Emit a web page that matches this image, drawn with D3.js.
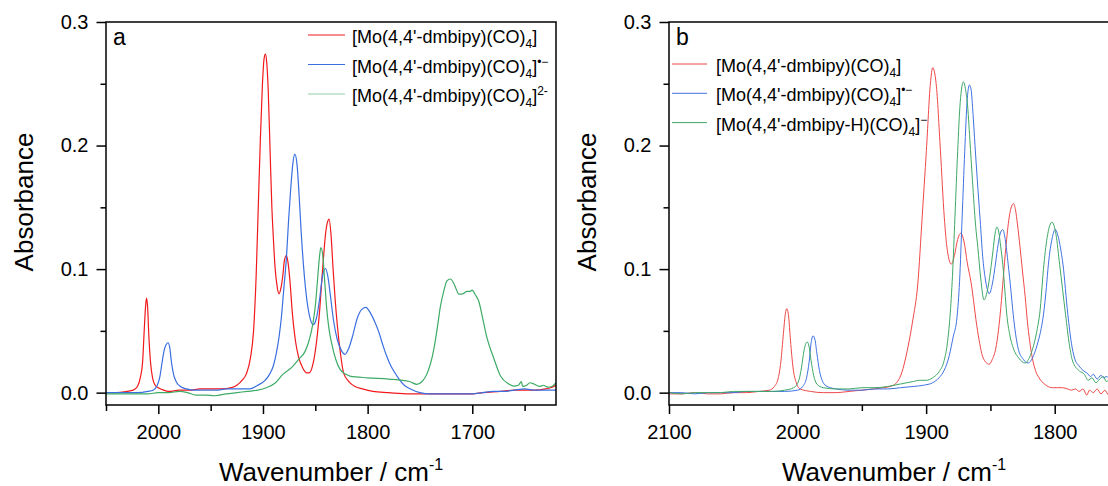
<!DOCTYPE html>
<html><head><meta charset="utf-8">
<script src="https://cdn.jsdelivr.net/npm/d3@7"></script>
<style>
body{margin:0;background:#fff;}
svg{display:block;font-family:"Liberation Sans",Arial,Helvetica,sans-serif;}
</style>
</head><body>
<svg id="chart" width="1108" height="486"></svg>
<script>
// ---------- DATA (wavenumber cm-1, absorbance) ----------
const redA = [[2050,0.000],[2040,0.000],[2030,0.001],[2024,0.002],[2020,0.005],[2017,0.013],[2015,0.025],[2013.5,0.050],[2012,0.072],[2011.2,0.0765],[2010.3,0.070],[2009,0.045],[2007.5,0.025],[2005.5,0.012],[2003,0.006],[2000,0.004],[1995,0.002],[1990,0.001],[1980,0.002],[1970,0.002],[1960,0.003],[1950,0.003],[1940,0.003],[1930,0.004],[1925,0.006],[1920,0.010],[1916,0.015],[1912,0.028],[1909,0.050],[1906.5,0.095],[1904.5,0.150],[1902.5,0.205],[1900.5,0.250],[1899,0.270],[1897.7,0.274],[1896.5,0.268],[1895,0.245],[1893,0.190],[1891.5,0.150],[1890,0.124],[1888.5,0.102],[1886.5,0.086],[1884.7,0.080],[1883,0.084],[1881,0.095],[1879.5,0.107],[1877.6,0.111],[1876,0.105],[1874,0.088],[1872,0.065],[1869,0.042],[1866,0.029],[1862,0.020],[1858,0.016],[1855.9,0.016],[1852,0.024],[1849,0.040],[1846,0.065],[1843,0.100],[1840,0.130],[1838,0.139],[1836.8,0.1405],[1835,0.128],[1833,0.100],[1831,0.075],[1829,0.055],[1826,0.032],[1823,0.016],[1818,0.009],[1812,0.005],[1805,0.003],[1795,0.001],[1780,0.000],[1760,-0.001],[1740,-0.001],[1720,-0.001],[1700,-0.001],[1690,0.000],[1673,0.001],[1660,0.002],[1650,0.002],[1640,0.002],[1630,0.003],[1625,0.004],[1620,0.006]];

const blueA = [[2050,0.000],[2040,0.000],[2030,0.000],[2020,0.000],[2010,0.001],[2005,0.002],[2001,0.006],[1998.5,0.013],[1996.5,0.024],[1994.5,0.034],[1992.5,0.039],[1990.7,0.0404],[1989,0.036],[1987.5,0.025],[1985.5,0.015],[1983,0.009],[1979,0.005],[1973,0.003],[1965,0.002],[1955,0.002],[1945,0.002],[1935,0.003],[1925,0.003],[1913,0.003],[1905,0.006],[1898,0.010],[1893.6,0.015],[1890,0.022],[1887,0.033],[1884.5,0.046],[1882.4,0.061],[1880,0.085],[1877.6,0.109],[1875.5,0.140],[1873.5,0.165],[1871.5,0.185],[1869.6,0.193],[1867.5,0.185],[1865.5,0.160],[1863.5,0.130],[1861,0.100],[1858.5,0.078],[1855.5,0.062],[1852,0.055],[1849,0.060],[1846,0.075],[1843,0.095],[1840.2,0.1005],[1838,0.094],[1835.5,0.078],[1832.5,0.058],[1829,0.043],[1825,0.034],[1821.7,0.031],[1818,0.036],[1814,0.047],[1810,0.060],[1806,0.067],[1801.8,0.069],[1797,0.064],[1793,0.057],[1789.7,0.050],[1786,0.040],[1782,0.030],[1778,0.022],[1775,0.0175],[1770,0.011],[1765,0.006],[1759,0.003],[1750,0.000],[1740,-0.001],[1720,-0.001],[1700,-0.001],[1690,0.000],[1680,0.001],[1670,0.001],[1660,0.002],[1650,0.003],[1640,0.002],[1630,0.002],[1620,0.002]];

const greenA = [[2050,-0.001],[2040,-0.001],[2030,-0.001],[2020,-0.001],[2010,-0.001],[2000,0.000],[1990,0.000],[1980,0.001],[1972,0.000],[1964,-0.002],[1955,-0.002],[1946,-0.0025],[1935,-0.001],[1925,0.000],[1915,0.001],[1905,0.002],[1896.7,0.004],[1888,0.008],[1880.8,0.015],[1873,0.020],[1864.8,0.028],[1860,0.033],[1856,0.042],[1852.4,0.0555],[1850,0.070],[1848,0.090],[1846,0.110],[1844.7,0.1175],[1843,0.112],[1841,0.090],[1839.2,0.069],[1837,0.052],[1834.4,0.040],[1830.5,0.027],[1826.5,0.019],[1821,0.015],[1816.9,0.0134],[1800,0.012],[1780,0.011],[1760,0.009],[1752.9,0.0067],[1748,0.009],[1743.4,0.015],[1737,0.034],[1733.5,0.052],[1730.6,0.069],[1727,0.083],[1724.2,0.0905],[1721,0.092],[1718,0.089],[1715,0.083],[1713,0.0797],[1709,0.080],[1705,0.082],[1702,0.082],[1700.2,0.083],[1697,0.079],[1693.8,0.074],[1690,0.060],[1686,0.0445],[1679.5,0.028],[1673,0.0134],[1665,0.007],[1660.3,0.0053],[1656,0.006],[1653,0.009],[1652,0.005],[1648,0.006],[1645,0.008],[1641,0.007],[1636,0.005],[1632,0.006],[1628,0.0045],[1624,0.005],[1620,0.008]];

const redB = [[2100,-0.001],[2090,-0.001],[2080,0.000],[2070,-0.001],[2060,-0.001],[2050,0.000],[2040,0.000],[2030,0.001],[2022,0.002],[2018,0.005],[2015,0.012],[2013,0.025],[2011,0.048],[2009.5,0.064],[2008.3,0.068],[2007,0.062],[2005.5,0.042],[2003.5,0.020],[2001,0.008],[1998,0.003],[1990,0.001],[1980,0.000],[1970,0.000],[1960,0.001],[1950,0.002],[1940.8,0.003],[1933,0.004],[1928,0.005],[1924,0.007],[1919,0.016],[1914.7,0.034],[1910.5,0.058],[1906.5,0.088],[1903.1,0.142],[1899.8,0.196],[1896.7,0.250],[1894.9,0.263],[1892.2,0.250],[1888.9,0.196],[1885.9,0.142],[1883.5,0.115],[1880.4,0.104],[1878,0.111],[1875.5,0.124],[1873,0.129],[1870.5,0.122],[1868,0.105],[1865.2,0.090],[1860,0.050],[1855.6,0.028],[1851,0.023],[1848.5,0.027],[1845.8,0.036],[1843.8,0.050],[1841.9,0.069],[1840,0.093],[1838,0.1175],[1835.4,0.142],[1833.5,0.151],[1832,0.153],[1830.5,0.148],[1829,0.1365],[1827,0.118],[1825.1,0.0986],[1823,0.078],[1821.3,0.058],[1819.5,0.042],[1817.4,0.028],[1815,0.018],[1812.2,0.012],[1808,0.007],[1801.9,0.004],[1798,0.004],[1794,0.004],[1790,0.003],[1787,0.002],[1784,0.003],[1781,0.001],[1778,0.003],[1775,-0.002],[1773,0.002],[1770,0.000],[1767,0.003],[1764,-0.001],[1761,0.002],[1758,-0.002],[1755,0.001],[1750,0.000]];

const greenB = [[2100,0.000],[2090,-0.001],[2080,0.000],[2070,0.000],[2060,0.000],[2050,0.001],[2040,0.001],[2030,0.001],[2020,0.001],[2010,0.002],[2003,0.004],[1999,0.010],[1997,0.020],[1995,0.034],[1993.5,0.040],[1992.5,0.041],[1991,0.037],[1989.5,0.026],[1987.5,0.014],[1985,0.007],[1980,0.004],[1970,0.003],[1960,0.003],[1950,0.004],[1940,0.004],[1930,0.005],[1920,0.007],[1910,0.009],[1905,0.010],[1900,0.010],[1895,0.012],[1890,0.017],[1886,0.026],[1883.5,0.040],[1881.5,0.061],[1879.5,0.095],[1877.6,0.142],[1875.5,0.195],[1873.5,0.235],[1871,0.2515],[1869,0.243],[1868,0.235],[1866,0.205],[1864,0.172],[1861.5,0.135],[1859.8,0.1175],[1857.5,0.092],[1855,0.075],[1852.5,0.082],[1850,0.098],[1848,0.115],[1846.5,0.128],[1845,0.134],[1843.5,0.130],[1842,0.118],[1840.4,0.104],[1838.8,0.083],[1837.3,0.0635],[1835,0.047],[1832.2,0.036],[1828,0.028],[1823,0.024],[1819,0.030],[1815.5,0.042],[1813.5,0.052],[1811.7,0.0635],[1808.4,0.104],[1805.5,0.128],[1802.2,0.138],[1799,0.128],[1796.2,0.104],[1791.6,0.0635],[1788.5,0.038],[1786.1,0.0256],[1780.8,0.0175],[1777,0.015],[1774,0.010],[1771,0.012],[1768,0.008],[1765,0.011],[1762,0.013],[1760,0.009],[1756,0.011],[1750,0.008]];

const blueB = [[2100,0.000],[2090,0.000],[2080,-0.001],[2070,0.000],[2060,0.000],[2050,0.000],[2040,0.001],[2030,0.001],[2020,0.001],[2010,0.001],[2000,0.002],[1996,0.005],[1993,0.012],[1991,0.025],[1989.5,0.040],[1988,0.046],[1986.5,0.043],[1985,0.032],[1983,0.018],[1980.5,0.009],[1977,0.005],[1970,0.003],[1960,0.002],[1950,0.002],[1940,0.003],[1930,0.003],[1920,0.004],[1910,0.005],[1902,0.006],[1895,0.008],[1890,0.012],[1886,0.018],[1882,0.030],[1879,0.045],[1876,0.061],[1874,0.090],[1872,0.142],[1870,0.195],[1868,0.238],[1866.3,0.249],[1865,0.245],[1863.5,0.225],[1862,0.200],[1860.2,0.172],[1858,0.140],[1856,0.110],[1854,0.092],[1852.5,0.084],[1851,0.080],[1848.5,0.088],[1846,0.105],[1844,0.120],[1842,0.130],[1840.4,0.132],[1838.5,0.124],[1836.2,0.104],[1834,0.082],[1832.3,0.0635],[1828.5,0.036],[1824.5,0.027],[1820.6,0.024],[1816.5,0.030],[1813,0.041],[1810.5,0.052],[1808.7,0.0635],[1806.5,0.085],[1804.9,0.104],[1802,0.125],[1799.6,0.132],[1797,0.125],[1795,0.114],[1793.6,0.104],[1789.8,0.0635],[1787,0.040],[1784.6,0.028],[1781,0.0215],[1778,0.018],[1775,0.016],[1772,0.013],[1770,0.015],[1767,0.011],[1764,0.014],[1762,0.012],[1760,0.013],[1756,0.011],[1750,0.012]];

const yMajorTicks = [0, 0.1, 0.2, 0.3];
const yMinorTicks = [0.05, 0.15, 0.25];
const xMajorA = [2000, 1900, 1800, 1700];
const xMinorA = [2050, 1950, 1850, 1750, 1650];
const xMajorB = [2100, 2000, 1900, 1800];
const xMinorB = [2050, 1950, 1850, 1750];

const legendA = [
  {base: "[Mo(4,4'-dmbipy)(CO)", sub: "4", sup: ""},
  {base: "[Mo(4,4'-dmbipy)(CO)", sub: "4", sup: "\u2022\u2212"},
  {base: "[Mo(4,4'-dmbipy)(CO)", sub: "4", sup: "2-"}
];
const legendB = [
  {base: "[Mo(4,4'-dmbipy)(CO)", sub: "4", sup: ""},
  {base: "[Mo(4,4'-dmbipy)(CO)", sub: "4", sup: "\u2022\u2212"},
  {base: "[Mo(4,4'-dmbipy-H)(CO)", sub: "4", sup: "\u2212"}
];

// ---------- DRAWING ----------
const svg = d3.select("#chart");
const plotTop = 22, plotBottom = 405, plotW = 450;

function drawPanel(cfg) {
  const x = d3.scaleLinear().domain(cfg.xDomain).range([cfg.left, cfg.left + plotW]);
  const y = d3.scaleLinear().domain([-0.01, 0.3]).range([plotBottom, plotTop]);
  const g = svg.append("g");

  const clipId = "clip" + cfg.id;
  svg.append("clipPath").attr("id", clipId).append("rect")
    .attr("x", cfg.left).attr("y", plotTop).attr("width", plotW).attr("height", plotBottom - plotTop);

  const line = d3.line().x(d => x(d[0])).y(d => y(d[1])).curve(d3.curveMonotoneX);
  const pg = g.append("g").attr("clip-path", `url(#${clipId})`);
  cfg.series.forEach(s => {
    pg.append("path").datum(s.data).attr("d", line)
      .attr("fill", "none").attr("stroke", s.color).attr("stroke-width", cfg.lw)
      .attr("stroke-linejoin", "round");
  });

  g.append("rect").attr("x", cfg.left).attr("y", plotTop).attr("width", plotW).attr("height", plotBottom - plotTop)
    .attr("fill", "none").attr("stroke", "#000").attr("stroke-width", 1.5);

  const ya = g.append("g").attr("transform", `translate(${cfg.left},0)`)
    .call(d3.axisLeft(y).tickValues(yMajorTicks).tickFormat(d3.format(".1f")).tickSize(9.5).tickPadding(8));
  ya.select(".domain").remove();
  ya.selectAll("line").attr("stroke-width", 1.5);
  ya.selectAll("text").attr("font-size", 20).attr("font-family", "Liberation Sans, Arial, sans-serif").attr("fill", "#000");
  const yma = g.append("g").attr("transform", `translate(${cfg.left},0)`)
    .call(d3.axisLeft(y).tickValues(yMinorTicks).tickFormat("").tickSize(5.5));
  yma.select(".domain").remove();
  yma.selectAll("line").attr("stroke-width", 1.5);

  const xa = g.append("g").attr("transform", `translate(0,${plotBottom})`)
    .call(d3.axisBottom(x).tickValues(cfg.xMajor).tickFormat(d3.format("d")).tickSize(9).tickPadding(11));
  xa.select(".domain").remove();
  xa.selectAll("line").attr("stroke-width", 1.5);
  xa.selectAll("text").attr("font-size", 20).attr("font-family", "Liberation Sans, Arial, sans-serif").attr("fill", "#000");
  const xma = g.append("g").attr("transform", `translate(0,${plotBottom})`)
    .call(d3.axisBottom(x).tickValues(cfg.xMinor).tickFormat("").tickSize(6));
  xma.select(".domain").remove();
  xma.selectAll("line").attr("stroke-width", 1.5);

  g.append("text").attr("transform", `translate(${cfg.left - 73},202) rotate(-90)`)
    .attr("text-anchor", "middle").attr("font-size", 26).text("Absorbance");
  const xt = g.append("text").attr("x", cfg.left + 225).attr("y", 481)
    .attr("text-anchor", "middle").attr("font-size", 26);
  xt.append("tspan").text("Wavenumber / cm");
  xt.append("tspan").attr("font-size", 16).attr("dy", -11).text("-1");

  g.append("text").attr("x", cfg.left + 7).attr("y", 45).attr("font-size", 23).text(cfg.letter);

  cfg.legend.forEach((L, i) => {
    const ly = cfg.legY + i * cfg.legStep;
    g.append("line").attr("x1", cfg.legX1).attr("x2", cfg.legX2).attr("y1", ly).attr("y2", ly)
      .attr("stroke", cfg.series[i].legColor || cfg.series[i].color).attr("stroke-width", cfg.legLw);
    const t = g.append("text").attr("x", cfg.legTx).attr("y", ly + 8).attr("font-size", 18);
    t.append("tspan").text(L.base);
    t.append("tspan").attr("font-size", 12).attr("dy", 5).text(L.sub);
    t.append("tspan").attr("dy", -5).text("]");
    if (L.sup) t.append("tspan").attr("font-size", 12).attr("dy", -7).text(L.sup);
  });
}

drawPanel({
  id: "A", letter: "a", left: 106, xDomain: [2050, 1620], xMajor: xMajorA, xMinor: xMinorA, lw: 1.2,
  series: [
    {data: redA, color: "#f2191c"},
    {data: blueA, color: "#3a6fe0"},
    {data: greenA, color: "#3dab66", legColor: "#8fd0a5"}
  ],
  legend: legendA, legX1: 308, legX2: 345, legTx: 352, legY: 35, legStep: 29.5, legLw: 1.2
});

drawPanel({
  id: "B", letter: "b", left: 669, xDomain: [2100, 1750], xMajor: xMajorB, xMinor: xMinorB, lw: 1,
  series: [
    {data: redB, color: "#f04848"},
    {data: blueB, color: "#3f72e2"},
    {data: greenB, color: "#3fa866"}
  ],
  legend: legendB, legX1: 672, legX2: 707, legTx: 716, legY: 64, legStep: 29.3, legLw: 1
});
</script>
</body></html>
